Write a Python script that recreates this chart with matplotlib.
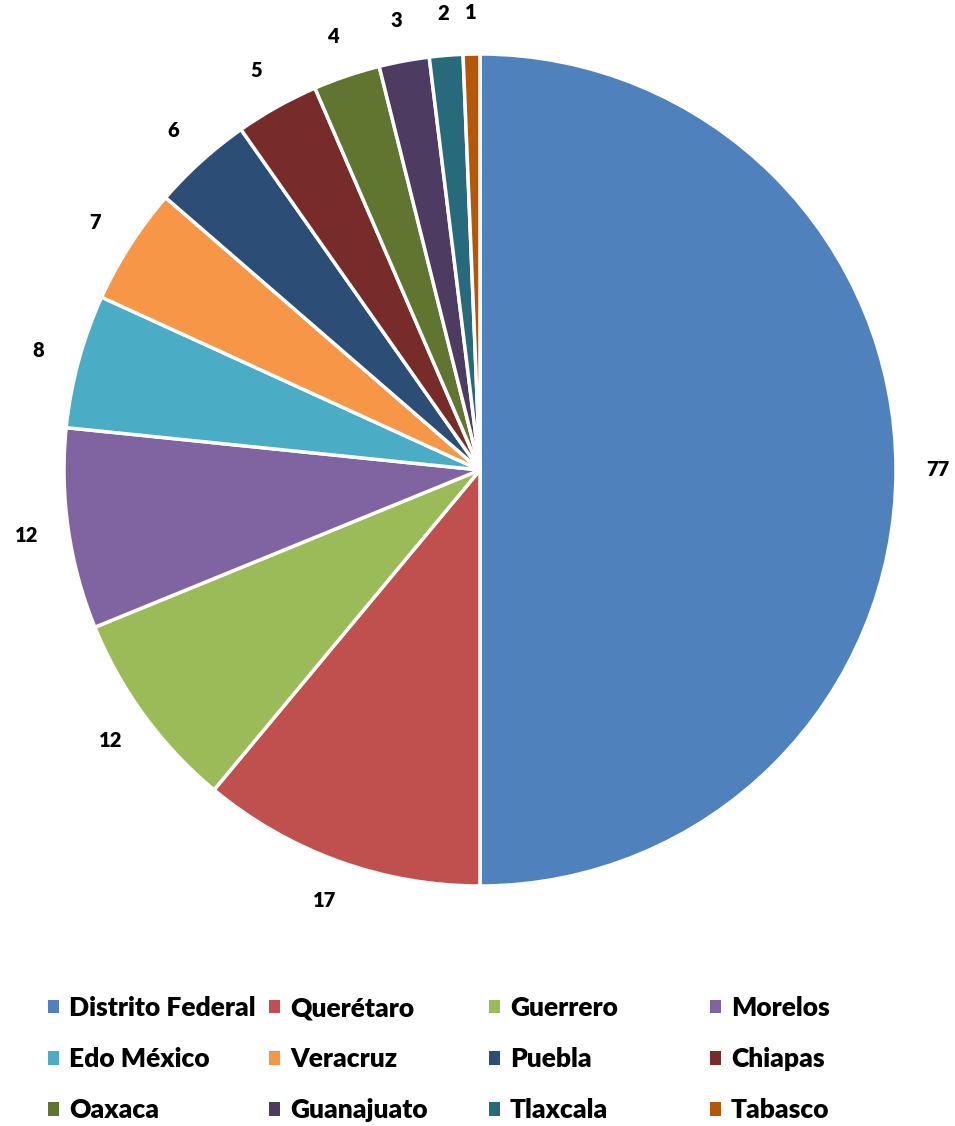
import matplotlib.pyplot as plt
from matplotlib.patches import Patch

plt.rcParams['font.family'] = ['Lato', 'DejaVu Sans']
plt.rcParams['font.weight'] = 'heavy'

estados = ["Distrito Federal", "Querétaro", "Guerrero", "Morelos",
           "Edo México", "Veracruz", "Puebla", "Chiapas",
           "Oaxaca", "Guanajuato", "Tlaxcala", "Tabasco"]
casos = [77, 17, 12, 12, 8, 7, 6, 5, 4, 3, 2, 1]
colores = ["#4F81BD", "#C0504D", "#9BBB59", "#8064A2",
           "#4BACC6", "#F79646", "#2C4D75", "#772C2A",
           "#5F7530", "#4D3B62", "#276A7C", "#B65708"]

total = sum(casos)

fig = plt.figure(figsize=(9.55, 11.26), dpi=100)
W, H = 955, 1126
cx, cy, r = 480, 470, 416
ax = fig.add_axes([(cx - r) / W, (H - cy - r) / H, 2 * r / W, 2 * r / H])

wedges, textos, etiquetas = ax.pie(
    casos, colors=colores, startangle=90, counterclock=False,
    wedgeprops=dict(edgecolor="white", linewidth=2.5),
    autopct=lambda p: f"{round(p * total / 100)}", pctdistance=1.1,
    textprops=dict(fontsize=14.5, fontweight="heavy", color="black"))
ax.set_xlim(-1, 1)
ax.set_ylim(-1, 1)
ax.set_aspect("equal")
ax.axis("off")

# leyenda en 4 columnas de ancho fijo, llenada por filas
col_x = [48, 269, 489, 710]
for j, x in enumerate(col_x):
    idx = list(range(j, len(estados), 4))
    handles = [Patch(facecolor=colores[i], edgecolor="none") for i in idx]
    fig.legend(handles, [estados[i] for i in idx],
               loc="upper left", bbox_to_anchor=(x / W, 1 - 996 / H),
               frameon=False, borderpad=0, borderaxespad=0,
               handlelength=0.42, handleheight=0.42, handletextpad=0.37,
               labelspacing=1.03, prop=dict(weight="heavy", size=19))

fig.savefig("out.png", dpi=100)
